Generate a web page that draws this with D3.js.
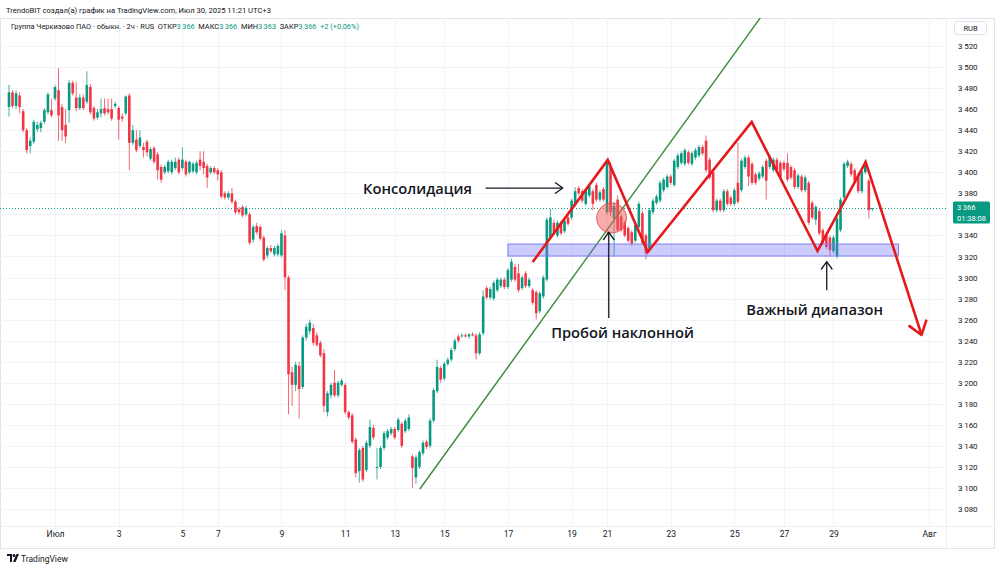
<!DOCTYPE html>
<html>
<head>
<meta charset="utf-8">
<script src="https://cdn.jsdelivr.net/npm/d3@7"></script>
<style>
  html, body { margin: 0; padding: 0; background: #fff; }
  svg { display: block; font-family: Roboto, 'Noto Sans', sans-serif; }
</style>
</head>
<body>
<svg id="chart" width="1000" height="570"></svg>
<script>
// 2h candles, Jun 29 - Jul 30 2025, index = bar number
const opens = [
  3462,3476,3463,3473,3458,3440,3425,3429,3441,3442, 3448,3457,3459,3470,3478,3462,3445,3459,3485,3471,
  3461,3471,3467,3481,3461,3452,3456,3461,3460,3460, 3463,3461,3453,3456,3473,3428,3431,3425,3424,3429,
  3413,3423,3417,3405,3400,3401,3400,3404,3412,3404, 3410,3400,3401,3400,3412,3410,3406,3400,3404,3402,
  3400,3380,3376,3380,3372,3365,3367,3360,3360,3336, 3349,3348,3338,3321,3328,3322,3322,3321,3340,3300,
  3210,3198,3216,3196,3243,3249,3252,3245,3238,3228, 3172,3188,3200,3188,3198,3198,3172,3169,3146,3116,
  3138,3117,3140,3157,3119,3120,3138,3148,3152,3156, 3155,3161,3154,3156,3130,3110,3120,3133,3144,3140,
  3164,3192,3214,3204,3218,3222,3232,3244,3244,3245, 3244,3246,3245,3228,3247,3290,3281,3280,3288,3292,
  3298,3291,3298,3310,3304,3290,3304,3292,3288,3286, 3268,3282,3298,3338,3352,3340,3352,3344,3357,3357,
  3369,3385,3382,3370,3378,3382,3388,3374,3384,3362, 3405,3356,3374,3358,3352,3347,3343,3335,3348,3361,
  3340,3326,3362,3371,3373,3383,3386,3396,3388,3405, 3409,3408,3419,3408,3414,3416,3424,3430,3412,3400,
  3364,3373,3364,3382,3376,3370,3390,3383,3405,3414, 3408,3398,3394,3396,3411,3405,3402,3412,3409,3409,
  3409,3405,3402,3386,3396,3383,3390,3371,3355,3363, 3345,3340,3338,3325,3320,3345,3376,3406,3408,3402,
  3398,3382,3400,3392,3366
]
const highs = [
  3483,3478,3478,3476,3460,3442,3433,3450,3448,3449, 3461,3476,3470,3483,3499,3465,3460,3488,3487,3486,
  3474,3474,3496,3484,3463,3460,3470,3470,3470,3470, 3467,3463,3456,3473,3475,3445,3440,3440,3428,3431,
  3424,3425,3419,3407,3407,3412,3412,3414,3414,3424, 3412,3411,3410,3411,3420,3420,3408,3406,3406,3404,
  3402,3382,3382,3385,3374,3367,3369,3368,3362,3350, 3352,3350,3340,3330,3331,3330,3332,3345,3345,3302,
  3215,3220,3220,3245,3256,3260,3256,3248,3240,3232, 3192,3200,3212,3202,3204,3200,3174,3171,3148,3138,
  3140,3145,3165,3160,3138,3140,3154,3156,3158,3158, 3167,3163,3166,3170,3132,3131,3136,3145,3146,3166,
  3195,3222,3216,3220,3224,3233,3242,3246,3247,3247, 3247,3248,3247,3248,3288,3292,3291,3297,3300,3300,
  3300,3309,3318,3313,3313,3302,3306,3300,3290,3288, 3287,3302,3357,3365,3355,3354,3354,3356,3359,3375,
  3386,3387,3384,3385,3389,3384,3390,3383,3386,3411, 3410,3372,3378,3360,3354,3349,3345,3352,3372,3364,
  3342,3366,3375,3379,3392,3395,3398,3398,3413,3418, 3420,3423,3421,3420,3423,3426,3426,3435,3414,3402,
  3375,3375,3384,3384,3378,3385,3428,3413,3416,3416, 3410,3400,3401,3407,3413,3417,3414,3414,3411,3411,
  3418,3407,3404,3399,3398,3397,3392,3373,3369,3365, 3347,3342,3340,3340,3358,3376,3410,3412,3410,3404,
  3400,3403,3412,3394,3366
]
const lows = [
  3453,3461,3460,3456,3438,3418,3418,3427,3438,3438, 3446,3455,3452,3468,3430,3430,3428,3447,3473,3458,
  3459,3459,3465,3455,3449,3450,3452,3454,3455,3449, 3461,3431,3448,3454,3402,3426,3419,3423,3414,3415,
  3411,3408,3393,3390,3398,3399,3398,3402,3398,3402, 3396,3398,3399,3398,3402,3398,3385,3398,3398,3392,
  3375,3374,3374,3370,3360,3360,3357,3358,3331,3333, 3341,3335,3315,3318,3323,3320,3320,3319,3288,3170,
  3178,3192,3166,3194,3240,3246,3235,3234,3224,3172, 3168,3185,3186,3186,3196,3170,3165,3142,3110,3105,
  3106,3115,3138,3146,3108,3118,3136,3146,3150,3146, 3153,3138,3152,3154,3100,3104,3118,3131,3137,3138,
  3162,3190,3200,3202,3216,3220,3230,3238,3243,3243, 3242,3244,3222,3226,3245,3279,3279,3278,3286,3290,
  3289,3289,3296,3296,3286,3288,3290,3290,3274,3260, 3266,3280,3296,3336,3341,3338,3340,3342,3349,3355,
  3367,3378,3371,3368,3376,3364,3372,3372,3372,3360, 3358,3320,3343,3343,3338,3333,3330,3333,3346,3331,
  3317,3324,3360,3369,3371,3381,3384,3388,3386,3403, 3407,3406,3407,3406,3412,3414,3416,3400,3393,3362,
  3362,3362,3362,3368,3368,3368,3370,3381,3403,3387, 3388,3388,3392,3394,3374,3403,3400,3400,3393,3401,
  3391,3393,3384,3384,3381,3381,3350,3355,3350,3340, 3331,3327,3320,3323,3318,3343,3374,3404,3396,3390,
  3380,3380,3398,3356,3363
]
const closes = [
  3476,3463,3475,3462,3440,3421,3430,3448,3445,3447, 3459,3474,3454,3481,3454,3440,3434,3485,3475,3461,
  3471,3461,3483,3457,3451,3457,3460,3456,3457,3451, 3465,3450,3451,3472,3428,3440,3421,3433,3421,3419,
  3422,3410,3402,3393,3405,3410,3410,3410,3400,3412, 3398,3410,3408,3409,3406,3404,3395,3404,3400,3398,
  3377,3376,3380,3372,3362,3362,3359,3366,3333,3348, 3343,3337,3317,3328,3325,3328,3330,3342,3300,3208,
  3198,3217,3194,3243,3253,3257,3238,3236,3226,3178, 3190,3198,3188,3200,3202,3172,3167,3144,3114,3136,
  3108,3143,3158,3148,3120,3138,3152,3154,3156,3148, 3165,3140,3164,3167,3119,3129,3134,3143,3139,3164,
  3193,3215,3203,3218,3222,3231,3240,3240,3245,3244, 3246,3245,3228,3246,3282,3281,3289,3295,3298,3298,
  3291,3307,3315,3298,3288,3300,3292,3298,3276,3266, 3285,3300,3355,3357,3343,3352,3342,3354,3351,3373,
  3382,3380,3373,3383,3387,3370,3374,3381,3374,3409, 3362,3368,3345,3345,3340,3335,3332,3350,3370,3333,
  3323,3364,3373,3377,3390,3393,3396,3390,3411,3416, 3418,3421,3409,3418,3421,3424,3418,3402,3395,3364,
  3373,3364,3382,3370,3370,3383,3372,3411,3414,3396, 3390,3390,3399,3405,3392,3415,3412,3402,3395,3403,
  3393,3395,3386,3397,3383,3395,3352,3357,3367,3342, 3333,3329,3326,3338,3356,3374,3408,3410,3398,3392,
  3382,3401,3410,3364,3366
]

// time axis: bar index where each labelled day starts
const dayTickIdx = [13, 31, 49, 59, 77, 95, 109, 123, 141, 159, 169, 187, 205, 219, 233, 260]
const dayTickLabels = ['Июл', '3', '5', '7', '9', '11', '13', '15', '17', '19', '21', '23', '25', '27', '29', 'Авг']
const priceTicks = d3.range(3080, 3521, 20)
const lastPrice = 3366

// drawings (bar index, price)
const zigzagIdx = [148.0, 169.2, 180.5, 209.9, 228.5, 242.1, 257.9]
const zigzagPrice = [3314.7, 3411.7, 3324.2, 3447.8, 3325.2, 3409.8, 3245.4]
const trendIdx = [116.1, 212.7]
const trendPrice = [3099, 3548.5]
const zoneIdx = [141, 251.4]
const zonePrice = [3320.4, 3331.8]
const breakIdx = 170.3
const breakPrice = 3356.5

const upColor = '#089981'
const downColor = '#f23645'
const textColor = '#131722'

attach()

function attach () {
  const dim = setDimensions()
  const scales = setScales(dim)
  const svg = d3.select('#chart')

  drawFrame(svg, dim)
  drawGrid(svg, dim, scales)
  const g = createPlot(svg, dim)
  drawCandles(g, scales)
  drawDrawings(g, scales)
  drawAxes(svg, dim, scales)
  drawHeader(svg)
}

function setDimensions () {
  return { width: 1000, height: 570, left: 0, right: 946, top: 18, bottom: 526 }
}

function setScales () {
  const xScale = d3.scaleLinear().domain([0, 260]).range([9, 929])
  const yScale = d3.scaleLinear().domain([3080, 3520]).range([509, 46])
  return { xScale, yScale }
}

function drawFrame (svg, dim) {
  svg.append('rect')
    .attr('x', 0.5).attr('y', dim.top + 0.5)
    .attr('width', 994).attr('height', 530)
    .attr('fill', 'none')
    .attr('stroke', '#e0e3eb')
  svg.append('line')
    .attr('x1', 0).attr('x2', 995)
    .attr('y1', dim.bottom + 0.5).attr('y2', dim.bottom + 0.5)
    .attr('stroke', '#eceef2')
  svg.append('line')
    .attr('x1', dim.right + 0.5).attr('x2', dim.right + 0.5)
    .attr('y1', dim.top).attr('y2', 548)
    .attr('stroke', '#eceef2')
}

function drawGrid (svg, dim, { xScale, yScale }) {
  svg.append('g')
    .attr('class', 'grid')
    .selectAll('line.h')
    .data(priceTicks)
    .join('line')
      .attr('x1', dim.left).attr('x2', dim.right)
      .attr('y1', d => Math.round(yScale(d)) + 0.5)
      .attr('y2', d => Math.round(yScale(d)) + 0.5)
      .attr('stroke', '#f0f3fa')
  svg.append('g')
    .selectAll('line.v')
    .data(dayTickIdx)
    .join('line')
      .attr('x1', d => Math.round(xScale(d)) + 0.5)
      .attr('x2', d => Math.round(xScale(d)) + 0.5)
      .attr('y1', dim.top).attr('y2', dim.bottom)
      .attr('stroke', '#f0f3fa')
}

function createPlot (svg, dim) {
  svg.append('clipPath')
    .attr('id', 'plotClip')
    .append('rect')
      .attr('x', dim.left).attr('y', dim.top)
      .attr('width', dim.right - dim.left)
      .attr('height', dim.bottom - dim.top)
  return svg.append('g').attr('clip-path', 'url(#plotClip)')
}

function drawCandles (g, { xScale, yScale }) {
  const idx = d3.range(opens.length)
  const colorOf = i => closes[i] >= opens[i] ? upColor : downColor

  // dotted last price line
  g.append('line')
    .attr('x1', 0).attr('x2', 946)
    .attr('y1', Math.round(yScale(lastPrice)) + 0.5)
    .attr('y2', Math.round(yScale(lastPrice)) + 0.5)
    .attr('stroke', upColor)
    .attr('stroke-dasharray', '1,2')

  g.append('g').selectAll('line')
    .data(idx)
    .join('line')
      .attr('x1', i => xScale(i)).attr('x2', i => xScale(i))
      .attr('y1', i => yScale(highs[i])).attr('y2', i => yScale(lows[i]))
      .attr('stroke', colorOf)
      .attr('stroke-opacity', 0.75)
      .attr('stroke-width', 1)

  g.append('g').selectAll('rect')
    .data(idx)
    .join('rect')
      .attr('x', i => xScale(i) - 1.3)
      .attr('width', 2.6)
      .attr('y', i => yScale(Math.max(opens[i], closes[i])))
      .attr('height', i => Math.max(1, Math.abs(yScale(opens[i]) - yScale(closes[i]))))
      .attr('fill', colorOf)
}

function arrowHead (sel, x, y, dx, dy, len, color, width) {
  const a = Math.atan2(-dy, -dx)
  const spread = Math.PI / 5
  const pts = [a - spread, a + spread].map(t => [x + len * Math.cos(t), y + len * Math.sin(t)])
  sel.append('path')
    .attr('d', `M${pts[0][0]},${pts[0][1]}L${x},${y}L${pts[1][0]},${pts[1][1]}`)
    .attr('fill', 'none')
    .attr('stroke', color)
    .attr('stroke-width', width)
    .attr('stroke-linecap', 'round')
    .attr('stroke-linejoin', 'round')
}

function drawDrawings (g, { xScale, yScale }) {
  // green rising trendline
  g.append('line')
    .attr('x1', xScale(trendIdx[0])).attr('y1', yScale(trendPrice[0]))
    .attr('x2', xScale(trendIdx[1])).attr('y2', yScale(trendPrice[1]))
    .attr('stroke', '#3d8b37')
    .attr('stroke-width', 1.4)

  // support zone
  g.append('rect')
    .attr('x', xScale(zoneIdx[0]))
    .attr('width', xScale(zoneIdx[1]) - xScale(zoneIdx[0]))
    .attr('y', yScale(zonePrice[1]))
    .attr('height', yScale(zonePrice[0]) - yScale(zonePrice[1]))
    .attr('fill', 'rgba(110, 110, 245, 0.35)')
    .attr('stroke', '#7f7ff0')
    .attr('stroke-width', 1)

  // breakout circle
  g.append('circle')
    .attr('cx', xScale(breakIdx)).attr('cy', yScale(breakPrice))
    .attr('r', 15)
    .attr('fill', 'rgba(242, 90, 90, 0.5)')
    .attr('stroke', 'rgba(230, 70, 70, 0.8)')
    .attr('stroke-width', 1)

  // zigzag projection
  const pts = zigzagIdx.map((d, i) => [xScale(d), yScale(zigzagPrice[i])])
  g.append('path')
    .attr('d', d3.line()(pts))
    .attr('fill', 'none')
    .attr('stroke', '#e5191c')
    .attr('stroke-width', 2.6)
    .attr('stroke-linejoin', 'miter')
  const n = pts.length
  arrowHead(g, pts[n - 1][0], pts[n - 1][1],
    pts[n - 1][0] - pts[n - 2][0], pts[n - 1][1] - pts[n - 2][1], 15, '#e5191c', 2.6)

  // black pointer arrows
  const yC = yScale(3385)
  const ax = g.append('g')
  ax.append('line')
    .attr('x1', xScale(134.7)).attr('x2', xScale(156.5))
    .attr('y1', yC).attr('y2', yC)
    .attr('stroke', textColor).attr('stroke-width', 1.3)
  arrowHead(ax, xScale(156.5), yC, 1, 0, 9, textColor, 1.3)

  ax.append('line')
    .attr('x1', xScale(169.5)).attr('x2', xScale(169.5))
    .attr('y1', yScale(3261.5)).attr('y2', yScale(3343))
    .attr('stroke', textColor).attr('stroke-width', 1.3)
  arrowHead(ax, xScale(169.5), yScale(3343), 0, -1, 9, textColor, 1.3)

  ax.append('line')
    .attr('x1', xScale(231.1)).attr('x2', xScale(231.1))
    .attr('y1', yScale(3288)).attr('y2', yScale(3315))
    .attr('stroke', textColor).attr('stroke-width', 1.3)
  arrowHead(ax, xScale(231.1), yScale(3315), 0, -1, 9, textColor, 1.3)

  const labels = g.append('g')
    .attr('font-family', "'Open Sans', sans-serif")
    .attr('font-weight', 600)
    .attr('font-size', 14.7)
    .attr('fill', textColor)
    .attr('dominant-baseline', 'central')
  labels.append('text').attr('x', xScale(130.8)).attr('y', yC)
    .attr('text-anchor', 'end').text('Консолидация')
  labels.append('text').attr('x', xScale(173.4)).attr('y', yScale(3248.2))
    .attr('text-anchor', 'middle').text('Пробой наклонной')
  labels.append('text').attr('x', xScale(227.7)).attr('y', yScale(3270))
    .attr('text-anchor', 'middle').text('Важный диапазон')
}

function drawAxes (svg, dim, { xScale, yScale }) {
  const loc = d3.formatLocale({ decimal: ',', thousands: '\u2009', grouping: [3], currency: ['', ''] })
  const fmt = loc.format(',')
  const yP = yScale(lastPrice)

  // labels under the last price tag are hidden, as on the platform
  const visibleTicks = priceTicks.filter(d => Math.abs(yScale(d) - (yP + 4.5)) > 14)

  const yAxis = svg.append('g')
    .attr('class', 'axisLabel rightAxis')
    .attr('transform', 'translate(' + 954 + ',0)')
    .call(d3.axisRight(yScale).tickValues(visibleTicks).tickFormat(fmt).tickSize(0).tickPadding(4))
  yAxis.select('.domain').remove()
  yAxis.selectAll('text').attr('font-size', 8).attr('fill', textColor)
    .attr('font-family', 'Roboto, sans-serif')

  const xAxis = svg.append('g')
    .attr('class', 'axisLabel bottomAxis')
    .attr('transform', 'translate(0,' + 531 + ')')
    .call(d3.axisBottom(xScale).tickValues(dayTickIdx)
      .tickFormat((d, i) => dayTickLabels[i]).tickSize(0).tickPadding(0))
  xAxis.select('.domain').remove()
  xAxis.selectAll('text').attr('font-size', 8.5).attr('fill', textColor)
    .attr('font-family', 'Roboto, sans-serif')

  // RUB box
  svg.append('rect')
    .attr('x', 954.5).attr('y', 21.5).attr('width', 32).attr('height', 13).attr('rx', 2)
    .attr('fill', '#fff').attr('stroke', '#e0e3eb')
  svg.append('text').attr('x', 970.5).attr('y', 31)
    .attr('text-anchor', 'middle').attr('font-size', 7.5).attr('fill', textColor).text('RUB')

  // last price tag
  svg.append('rect')
    .attr('x', 953).attr('y', yP - 6.5).attr('width', 37).attr('height', 22).attr('rx', 1.5)
    .attr('fill', upColor)
  svg.append('text').attr('x', 957).attr('y', yP + 1.5)
    .attr('font-size', 7.5).attr('fill', '#fff').text(fmt(lastPrice))
  svg.append('text').attr('x', 957).attr('y', yP + 12.5)
    .attr('font-size', 7.5).attr('fill', '#fff').text('01:38:08')
}

function drawHeader (svg) {
  svg.append('text')
    .attr('x', 6).attr('y', 13)
    .attr('font-size', 7.6).attr('fill', textColor)
    .text('TrendoBIT создал(а) график на TradingView.com, Июл 30, 2025 11:21 UTC+3')

  const t = svg.append('text')
    .attr('x', 11).attr('y', 28.5)
    .attr('font-size', 7.4).attr('fill', textColor)
    .attr('xml:space', 'preserve')
    .style('white-space', 'pre')
  t.append('tspan').text('Группа Черкизово ПАО · обыкн. · 2ч · RUS  ')
  const parts = [['ОТКР', '3\u2009366'], ['МАКС', '3\u2009366'], ['МИН', '3\u2009363'], ['ЗАКР', '3\u2009366']]
  parts.forEach(([k, v], i) => {
    t.append('tspan').text((i ? '  ' : '') + k)
    t.append('tspan').attr('fill', upColor).text(v)
  })
  t.append('tspan').attr('fill', upColor).text('  +2 (+0,06%)')

  // TradingView mark
  const logo = svg.append('g').attr('transform', 'translate(7,554)')
  logo.append('path').attr('d', 'M0,0H5V8H3V2H0Z').attr('fill', textColor)
  logo.append('circle').attr('cx', 7).attr('cy', 1.5).attr('r', 1.5).attr('fill', textColor)
  logo.append('path').attr('d', 'M9.5,0H12L8.5,8H6Z').attr('fill', textColor)
  svg.append('text').attr('x', 21).attr('y', 562)
    .attr('font-size', 8.5).attr('fill', textColor).text('TradingView')
}
</script>
</body>
</html>
